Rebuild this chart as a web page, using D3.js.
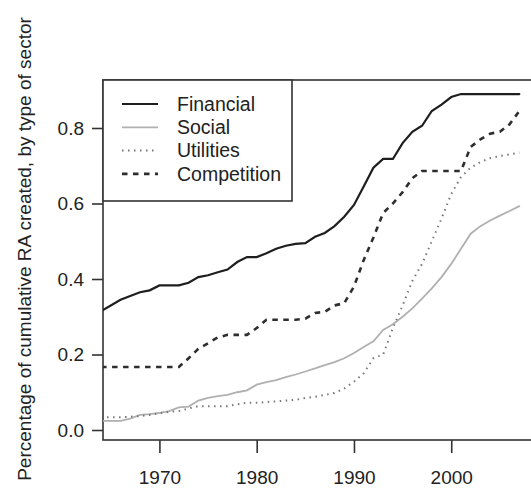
<!DOCTYPE html>
<html lang="en">
<head>
<meta charset="UTF-8">
<title>Cumulative RA by sector</title>
<script src="https://d3js.org/d3.v7.min.js"></script>
<style>
  body { margin: 0; background: #fff; }
  svg { font-family: "Liberation Sans", Arial, sans-serif; }
</style>
</head>
<body>
<svg width="531" height="501"></svg>
<script>
// years on the x axis
const years = d3.range(1964, 2008);

// cumulative share per sector
const financial = [0.315, 0.33, 0.345, 0.355, 0.365, 0.37, 0.383, 0.383, 0.383, 0.39,
  0.405, 0.41, 0.418, 0.425, 0.445, 0.458, 0.458, 0.468, 0.48, 0.488,
  0.493, 0.495, 0.512, 0.522, 0.54, 0.565, 0.596, 0.645, 0.695, 0.718,
  0.718, 0.76, 0.79, 0.806, 0.845, 0.862, 0.882, 0.89, 0.89, 0.89,
  0.89, 0.89, 0.89, 0.89];
const social = [0.024, 0.024, 0.024, 0.03, 0.04, 0.042, 0.045, 0.05, 0.06, 0.062,
  0.078, 0.085, 0.09, 0.093, 0.1, 0.105, 0.12, 0.127, 0.132, 0.14,
  0.147, 0.155, 0.163, 0.172, 0.18, 0.19, 0.204, 0.22, 0.235, 0.265,
  0.28, 0.3, 0.322, 0.348, 0.375, 0.405, 0.44, 0.48, 0.52, 0.54,
  0.555, 0.568, 0.58, 0.593];
const utilities = [0.034, 0.034, 0.034, 0.035, 0.037, 0.04, 0.045, 0.048, 0.05, 0.057,
  0.063, 0.063, 0.063, 0.063, 0.068, 0.072, 0.072, 0.074, 0.076, 0.078,
  0.08, 0.085, 0.088, 0.093, 0.098, 0.11, 0.128, 0.15, 0.19, 0.2,
  0.27, 0.33, 0.395, 0.44, 0.5, 0.56, 0.625, 0.67, 0.695, 0.71,
  0.72, 0.726, 0.73, 0.735];
const competition = [0.167, 0.167, 0.167, 0.167, 0.167, 0.167, 0.167, 0.167, 0.167, 0.19,
  0.215, 0.23, 0.245, 0.252, 0.252, 0.252, 0.27, 0.292, 0.292, 0.292,
  0.292, 0.295, 0.31, 0.313, 0.33, 0.336, 0.38, 0.45, 0.51, 0.575,
  0.6, 0.63, 0.667, 0.686, 0.686, 0.686, 0.686, 0.686, 0.75, 0.77,
  0.785, 0.79, 0.81, 0.845];

const xTicks = [1970, 1980, 1990, 2000];
const yTicks = [0, 0.2, 0.4, 0.6, 0.8];

const series = [
  { name: "Financial", values: financial, color: "#1e1e1e", width: 2.2, dash: null },
  { name: "Social", values: social, color: "#b0b0b0", width: 1.8, dash: null },
  { name: "Utilities", values: utilities, color: "#777", width: 2, dash: "1.5,4.5" },
  { name: "Competition", values: competition, color: "#2e2e2e", width: 2.6, dash: "5.5,5.5" }
];

const svg = d3.select("svg");
const mLeft = 103, mTop = 80, mBottom = 440, mRight = 534;

const x = d3.scaleLinear().domain([1964.2, 2008.2]).range([mLeft, 531]);
const y = d3.scaleLinear().domain([0, 0.8]).range([430, 128]);

svg.append("clipPath").attr("id", "plot")
  .append("rect").attr("x", mLeft).attr("y", mTop)
  .attr("width", mRight - mLeft).attr("height", mBottom - mTop);

// axes
const xAxis = svg.append("g")
  .attr("transform", `translate(0,${mBottom})`)
  .call(d3.axisBottom(x).tickValues(xTicks).tickFormat(d3.format("d")).tickSize(13).tickPadding(18));
const yAxis = svg.append("g")
  .attr("transform", `translate(${mLeft},0)`)
  .call(d3.axisLeft(y).tickValues(yTicks).tickFormat(d3.format(".1f")).tickSize(11).tickPadding(8));

[xAxis, yAxis].forEach(g => {
  g.select(".domain").remove();
  g.selectAll("line").attr("stroke", "#333").attr("stroke-width", 1.6);
  g.selectAll("text").attr("font-size", 19).attr("fill", "#222")
    .attr("font-family", "Liberation Sans, Arial, sans-serif");
});

// frame
svg.append("rect")
  .attr("x", mLeft).attr("y", mTop)
  .attr("width", mRight - mLeft).attr("height", mBottom - mTop)
  .attr("fill", "none").attr("stroke", "#333").attr("stroke-width", 1.6);

// lines
const line = d3.line().x((d, i) => x(years[i])).y(d => y(d));
const lines = svg.append("g").attr("clip-path", "url(#plot)");
series.forEach(s => {
  lines.append("path")
    .datum(s.values)
    .attr("d", line)
    .attr("fill", "none")
    .attr("stroke", s.color)
    .attr("stroke-width", s.width)
    .attr("stroke-dasharray", s.dash)
    .attr("stroke-linecap", s.dash ? "butt" : "round");
});

// legend
const legend = svg.append("g");
legend.append("rect")
  .attr("x", mLeft).attr("y", mTop).attr("width", 189).attr("height", 121)
  .attr("fill", "#fff").attr("stroke", "#333").attr("stroke-width", 1.6);
series.forEach((s, i) => {
  const ly = 104 + i * 23.3;
  legend.append("line")
    .attr("x1", 122).attr("x2", 158).attr("y1", ly).attr("y2", ly)
    .attr("stroke", s.color).attr("stroke-width", s.width)
    .attr("stroke-dasharray", s.dash);
  legend.append("text")
    .attr("x", 177).attr("y", ly).attr("dy", "0.35em")
    .attr("font-size", 19.5).attr("fill", "#222")
    .text(s.name);
});

// y axis title
svg.append("text")
  .attr("transform", "translate(31,249) rotate(-90)")
  .attr("text-anchor", "middle")
  .attr("font-size", 19).attr("fill", "#222")
  .text("Percentage of cumulative RA created, by type of sector");
</script>
</body>
</html>
